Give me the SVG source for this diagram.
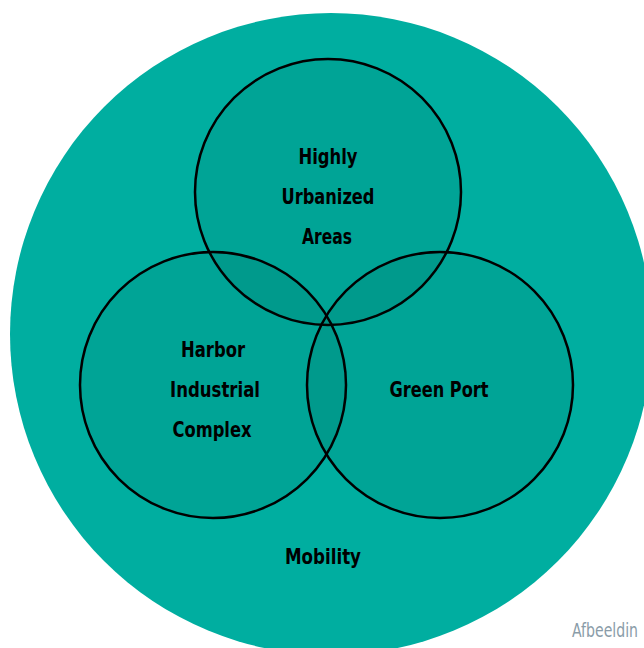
<svg xmlns="http://www.w3.org/2000/svg" width="644" height="648" viewBox="0 0 644 648">
<style>
.set{fill:#002a1a;fill-opacity:0.075;stroke:#000;stroke-width:2.5}
.lbl{font-family:"DejaVu Sans Condensed","Liberation Sans",sans-serif;font-weight:bold;font-size:22px;fill:#000;text-anchor:middle}
</style>
<rect width="644" height="648" fill="#fff"/>
<g id="mobility">
<circle cx="331" cy="334" r="321" fill="#00AEA0"/>
<text class="lbl" x="323" y="564" textLength="76" lengthAdjust="spacingAndGlyphs">Mobility</text>
</g>
<g id="urban">
<circle class="set" cx="328" cy="192" r="133"/>
<text class="lbl" x="328" y="164" textLength="59" lengthAdjust="spacingAndGlyphs">Highly</text>
<text class="lbl" x="328" y="204" textLength="93" lengthAdjust="spacingAndGlyphs">Urbanized</text>
<text class="lbl" x="327" y="244" textLength="50" lengthAdjust="spacingAndGlyphs">Areas</text>
</g>
<g id="harbor">
<circle class="set" cx="213" cy="385" r="133"/>
<text class="lbl" x="213" y="357" textLength="64" lengthAdjust="spacingAndGlyphs">Harbor</text>
<text class="lbl" x="215" y="397" textLength="90" lengthAdjust="spacingAndGlyphs">Industrial</text>
<text class="lbl" x="212" y="437" textLength="79" lengthAdjust="spacingAndGlyphs">Complex</text>
</g>
<g id="green">
<circle class="set" cx="440" cy="385" r="133"/>
<text class="lbl" x="439" y="397" textLength="99" lengthAdjust="spacingAndGlyphs">Green Port</text>
</g>
<g id="connectors"></g>
<text x="572" y="637" font-family="DejaVu Sans Condensed,Liberation Sans,sans-serif" font-size="19" fill="#8a9ca8" textLength="66" lengthAdjust="spacingAndGlyphs">Afbeeldin</text>
</svg>
